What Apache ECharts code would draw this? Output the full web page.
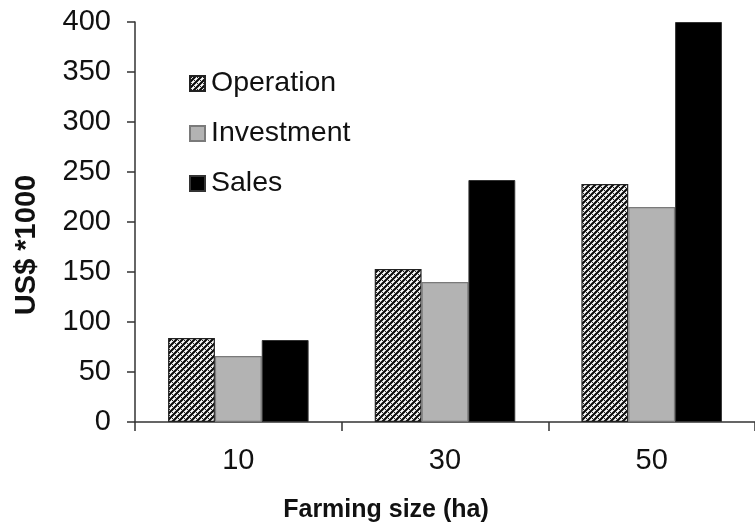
<!DOCTYPE html>
<html>
<head>
<meta charset="utf-8">
<script src="https://cdn.jsdelivr.net/npm/echarts@6/dist/echarts.min.js"></script>
<style>
  html, body { margin: 0; padding: 0; background: #fff; }
  #chart { width: 755px; height: 529px; }
</style>
</head>
<body>
<div id="chart"></div>
<script>
// Farming size categories (ha) and costs / sales in US$ *1000
const farmSizes = ['10', '30', '50'];
const operation = [84, 153, 238];
const investment = [66, 140, 215];
const sales = [82, 242, 400];
const yTicks = { min: 0, max: 400, interval: 50 };

// Hatched fill used for the "Operation" bars
function hatchTile() {
  const c = document.createElement('canvas');
  c.width = 6; c.height = 6;
  const g = c.getContext('2d');
  g.fillStyle = '#ffffff';
  g.fillRect(0, 0, 6, 6);
  g.strokeStyle = '#0a0a0a';
  g.lineWidth = 2.2;
  g.beginPath();
  g.moveTo(-1, 7); g.lineTo(7, -1);
  g.moveTo(-1, 1); g.lineTo(1, -1);
  g.moveTo(5, 7); g.lineTo(7, 5);
  g.stroke();
  g.fillStyle = '#222';
  g.fillRect(4, 4, 1, 1);
  g.fillRect(1, 1, 1, 1);
  return c;
}

const font = '"Liberation Sans", Arial, sans-serif';
const chart = echarts.init(document.getElementById('chart'), null, { renderer: 'canvas' });

chart.setOption({
  animation: false,
  backgroundColor: '#ffffff',
  grid: { left: 135, right: 0, top: 22, bottom: 107, containLabel: false },
  legend: {
    orient: 'vertical',
    left: 184,
    top: 64,
    itemWidth: 15,
    itemHeight: 15,
    itemGap: 21,
    icon: 'rect',
    textStyle: { fontFamily: font, fontSize: 28.5, color: '#111', padding: [0, 0, 0, 1] },
    data: ['Operation', 'Investment', 'Sales']
  },
  xAxis: {
    type: 'category',
    data: farmSizes,
    axisLine: { lineStyle: { color: '#333', width: 1.5 } },
    axisTick: { show: true, length: 9, lineStyle: { color: '#333', width: 1.5 } },
    axisLabel: { fontFamily: font, fontSize: 29, color: '#111', margin: 24 },
    splitLine: { show: false }
  },
  yAxis: {
    type: 'value',
    min: yTicks.min,
    max: yTicks.max,
    interval: yTicks.interval,
    axisLine: { show: true, lineStyle: { color: '#333', width: 1.5 } },
    axisTick: { show: true, length: 8, lineStyle: { color: '#333', width: 1.5 } },
    axisLabel: { fontFamily: font, fontSize: 29, color: '#111', margin: 24 },
    splitLine: { show: false }
  },
  graphic: [
    {
      type: 'text',
      x: 27, y: 245,
      rotation: Math.PI / 2,
      style: {
        text: 'US$ *1000',
        font: 'bold 29px ' + font,
        fill: '#111',
        align: 'center',
        verticalAlign: 'middle'
      }
    },
    {
      type: 'text',
      x: 386, y: 510,
      style: {
        text: 'Farming size (ha)',
        font: 'bold 25px ' + font,
        fill: '#111',
        align: 'center',
        verticalAlign: 'middle'
      }
    }
  ],
  series: [
    {
      name: 'Operation',
      type: 'bar',
      data: operation,
      barGap: '0%',
      barCategoryGap: '32%',
      itemStyle: {
        color: { image: hatchTile(), repeat: 'repeat' },
        borderColor: '#222',
        borderWidth: 1.2
      }
    },
    {
      name: 'Investment',
      type: 'bar',
      data: investment,
      itemStyle: { color: '#b3b3b3', borderColor: '#7a7a7a', borderWidth: 1.2 }
    },
    {
      name: 'Sales',
      type: 'bar',
      data: sales,
      itemStyle: { color: '#000000', borderColor: '#333', borderWidth: 1 }
    }
  ]
});
</script>
</body>
</html>
